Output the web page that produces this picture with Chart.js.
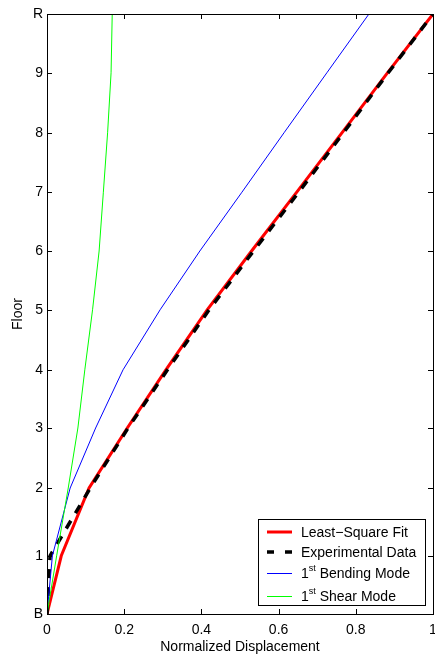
<!DOCTYPE html>
<html>
<head>
<meta charset="utf-8">
<script src="https://cdn.jsdelivr.net/npm/chart.js@4"></script>
<style>
    html, body { margin: 0; padding: 0; background: #fff; }
    #wrap { width: 435px; height: 662px; }
</style>
</head>
<body>
<div id="wrap"><canvas id="modeChart" width="435" height="662"></canvas></div>
<script>
// Floor levels on the height axis and their labels
const floorHeights = [0, 0.97, 2.1, 3.1, 4.07, 5.07, 6.05, 7.03, 8.02, 9.02, 10];
const floorNames = ['B', '1', '2', '3', '4', '5', '6', '7', '8', '9', 'R'];

// Normalized displacement at each floor
const fitDisp = [0, 0.037, 0.109, 0.208, 0.308, 0.415, 0.53, 0.647, 0.764, 0.882, 1.0];
const expDisp = [0, 0.008, 0.112, 0.21, 0.312, 0.42, 0.535, 0.652, 0.768, 0.884, 1.0];
const bendDisp = [0, 0.014, 0.06, 0.126, 0.197, 0.293, 0.396, 0.505, 0.614, 0.725, 0.834];
const shearDisp = [0, 0.025, 0.055, 0.08, 0.098, 0.118, 0.135, 0.146, 0.157, 0.166, 0.169];

const FONT = '"Liberation Sans", Arial, Helvetica, sans-serif';

const toPoints = (disp) => disp.map((d, i) => ({ x: d, y: floorHeights[i] }));

// box around the axes with inward tick marks on all four sides
const frameTicks = {
    id: 'frameTicks',
    afterDatasetsDraw(chart) {
        const { ctx, chartArea: a, scales: { x, y } } = chart;
        const len = 5;
        ctx.save();
        ctx.strokeStyle = '#000';
        ctx.lineWidth = 1;
        ctx.beginPath();
        x.ticks.forEach(t => {
            const px = Math.round(x.getPixelForValue(t.value)) + 0.5;
            ctx.moveTo(px, a.bottom); ctx.lineTo(px, a.bottom - len);
            ctx.moveTo(px, a.top); ctx.lineTo(px, a.top + len);
        });
        y.ticks.forEach(t => {
            const py = Math.round(y.getPixelForValue(t.value)) + 0.5;
            ctx.moveTo(a.left, py); ctx.lineTo(a.left + len, py);
            ctx.moveTo(a.right, py); ctx.lineTo(a.right - len, py);
        });
        ctx.stroke();
        ctx.strokeRect(Math.round(a.left) + 0.5, Math.round(a.top) + 0.5,
            Math.round(a.right - a.left), Math.round(a.bottom - a.top));
        ctx.restore();
    }
};

// legend box, with "1st" drawn as a superscript
const boxLegend = {
    id: 'boxLegend',
    afterDraw(chart) {
        const ctx = chart.ctx;
        const box = { x: 258.5, y: 519.5, w: 167, h: 86 };
        const rows = [12.5, 32.5, 54, 77];
        ctx.save();
        ctx.fillStyle = '#fff';
        ctx.fillRect(box.x, box.y, box.w, box.h);
        ctx.strokeStyle = '#000';
        ctx.lineWidth = 1;
        ctx.strokeRect(box.x, box.y, box.w, box.h);

        chart.data.datasets.forEach((ds, i) => {
            const cy = box.y + rows[i];
            ctx.beginPath();
            ctx.strokeStyle = ds.borderColor;
            ctx.lineWidth = ds.borderWidth;
            ctx.setLineDash(ds.borderDash && ds.borderDash.length ? [7, 11] : []);
            ctx.moveTo(267, cy);
            ctx.lineTo(292, cy);
            ctx.stroke();
            ctx.setLineDash([]);

            ctx.fillStyle = '#000';
            ctx.textBaseline = 'middle';
            ctx.textAlign = 'left';
            let tx = 301;
            const m = ds.label.match(/^(\d+)(st|nd|rd|th)(.*)$/);
            ctx.font = '14px ' + FONT;
            if (m) {
                ctx.fillText(m[1], tx, cy + 1);
                tx += ctx.measureText(m[1]).width;
                ctx.font = '9px ' + FONT;
                ctx.fillText(m[2], tx, cy - 5);
                tx += ctx.measureText(m[2]).width;
                ctx.font = '14px ' + FONT;
                ctx.fillText(m[3], tx, cy + 1);
            } else {
                ctx.fillText(ds.label, tx, cy + 1);
            }
        });
        ctx.restore();
    }
};

const ctx = document.getElementById('modeChart').getContext('2d');
const modeChart = new Chart(ctx, {
    type: 'scatter',
    data: {
        datasets: [
            {
                label: 'Least\u2212Square Fit',
                data: toPoints(fitDisp),
                showLine: true,
                borderColor: '#ff0000',
                borderWidth: 3,
                pointRadius: 0,
                order: 3
            },
            {
                label: 'Experimental Data',
                data: toPoints(expDisp),
                showLine: true,
                borderColor: '#000000',
                borderWidth: 3.5,
                borderDash: [9, 9],
                pointRadius: 0,
                order: 2
            },
            {
                label: '1st Bending Mode',
                data: toPoints(bendDisp),
                showLine: true,
                borderColor: '#0000ff',
                borderWidth: 1,
                pointRadius: 0,
                order: 1
            },
            {
                label: '1st Shear Mode',
                data: toPoints(shearDisp),
                showLine: true,
                borderColor: '#00ff00',
                borderWidth: 1,
                pointRadius: 0,
                order: 0
            }
        ]
    },
    options: {
        responsive: false,
        animation: false,
        layout: { padding: { top: 14, right: 2, left: 0, bottom: 0 } },
        plugins: {
            legend: { display: false },
            tooltip: { enabled: false }
        },
        scales: {
            x: {
                type: 'linear',
                min: 0,
                max: 1,
                grid: { display: false, drawTicks: false },
                border: { display: true, color: '#000' },
                ticks: {
                    stepSize: 0.2,
                    maxRotation: 0,
                    padding: 8,
                    color: '#000',
                    font: { size: 14, family: FONT },
                    callback: (v) => String(+v.toFixed(1))
                },
                title: {
                    display: true,
                    text: 'Normalized Displacement',
                    color: '#000',
                    font: { size: 14, family: FONT },
                    padding: { top: 0, bottom: 6 }
                },
                afterFit: (scale) => {
                    scale.height = 48;
                    scale.paddingLeft = 0;
                    scale.paddingRight = 0;
                }
            },
            y: {
                type: 'linear',
                min: 0,
                max: 10,
                grid: { display: false, drawTicks: false },
                border: { display: true, color: '#000' },
                afterBuildTicks: (scale) => {
                    scale.ticks = floorHeights.map(v => ({ value: v }));
                },
                ticks: {
                    autoSkip: false,
                    padding: 4,
                    color: '#000',
                    font: { size: 14, family: FONT },
                    callback: (v) => floorNames[floorHeights.indexOf(v)]
                },
                title: {
                    display: true,
                    text: 'Floor',
                    color: '#000',
                    font: { size: 14, family: FONT },
                    padding: { top: 10, bottom: 0 }
                },
                afterFit: (scale) => {
                    scale.width = 47;
                    scale.paddingTop = 0;
                    scale.paddingBottom = 0;
                }
            }
        }
    },
    plugins: [frameTicks, boxLegend]
});
</script>
</body>
</html>
